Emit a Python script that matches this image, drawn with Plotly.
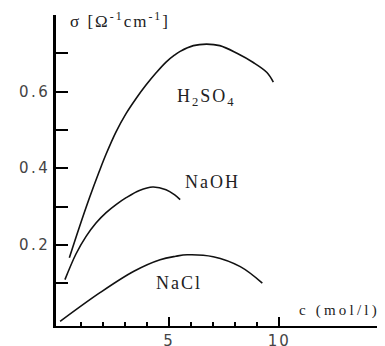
import plotly.graph_objects as go

# Data
h2so4_c = [0.47, 0.92, 1.38, 1.83, 2.14, 2.59, 3.05, 3.5, 3.95, 4.41, 4.86, 5.24, 5.5, 6.1, 6.7, 7.3, 8.08, 8.82, 9.44, 9.73]
h2so4_s = [0.166, 0.245, 0.322, 0.392, 0.437, 0.495, 0.543, 0.582, 0.617, 0.649, 0.677, 0.695, 0.705, 0.72, 0.724, 0.72, 0.70, 0.676, 0.65, 0.625]

naoh_c = [0.27, 0.77, 1.23, 1.68, 2.14, 2.59, 3.05, 3.65, 4.26, 4.86, 5.24, 5.5]
naoh_s = [0.109, 0.176, 0.222, 0.257, 0.284, 0.305, 0.323, 0.342, 0.351, 0.344, 0.331, 0.318]

nacl_c = [0.05, 1.86, 3.4, 4.59, 5.3, 5.82, 7.0, 8.23, 9.23]
nacl_s = [0.0, 0.075, 0.131, 0.161, 0.17, 0.174, 0.169, 0.143, 0.10]

y_ticks = [0.1, 0.2, 0.3, 0.4, 0.5, 0.6, 0.7]
y_labels = ["", "0.2", "", "0.4", "", "0.6", ""]
x_major = [5, 10]
x_labels = ["5", "10"]
x_minor = [1, 2, 3, 4, 6, 7, 8, 9]

def sp(t, s=1.5):
    return f"<span style='letter-spacing:{s}px'>{t}</span>"

line = dict(color="#111", width=1.6, shape="spline", smoothing=1.0)
fig = go.Figure()
for cx, sy in [(h2so4_c, h2so4_s), (naoh_c, naoh_s), (nacl_c, nacl_s)]:
    fig.add_trace(go.Scatter(x=cx, y=sy, mode="lines", line=line, showlegend=False))

serif = dict(family="Liberation Serif", size=18, color="#222")
fig.add_annotation(x=6.7, y=0.585, text=sp("H<sub>2</sub>SO<sub>4</sub>", 2), showarrow=False, font=serif)
fig.add_annotation(x=6.95, y=0.365, text=sp("NaOH", 2), showarrow=False, font=serif)
fig.add_annotation(x=5.45, y=0.10, text=sp("NaCl", 2), showarrow=False, font=serif)
fig.add_annotation(xref="paper", yref="paper", x=0.035, y=0.985, xanchor="left", yanchor="middle",
                   text=sp("σ [Ω<sup>-1</sup>cm<sup>-1</sup>]", 2), showarrow=False,
                   font=dict(family="Liberation Serif", size=17, color="#222"))
fig.add_annotation(xref="paper", x=0.99, y=0.028, xanchor="right", text=sp("c (mol/l)", 3.2),
                   showarrow=False, font=dict(family="Liberation Serif", size=15, color="#222"))

tickfont = dict(family="DejaVu Sans", size=15, color="#444")
fig.update_layout(
    width=377, height=338,
    margin=dict(l=48, r=0, t=7, b=20, autoexpand=False),
    paper_bgcolor="white", plot_bgcolor="white",
    xaxis=dict(range=[-0.136, 14.8], showgrid=False, zeroline=False, showline=True, automargin=False,
               linecolor="black", linewidth=2, ticks="inside", ticklen=9, tickwidth=1.5,
               tickcolor="black", tickvals=x_major, ticktext=[sp(t, 2) for t in x_labels],
               tickfont=tickfont, ticklabelstandoff=0,
               minor=dict(tickvals=x_minor, ticks="inside", ticklen=4, tickwidth=1.5,
                          tickcolor="black", showgrid=False)),
    yaxis=dict(range=[-0.012, 0.80], showgrid=False, zeroline=False, showline=True, automargin=False,
               linecolor="black", linewidth=2.5, ticks="inside", ticklen=12, tickwidth=1.5,
               tickcolor="black", tickvals=y_ticks, ticktext=[sp(t, 2.5) for t in y_labels],
               tickfont=tickfont),
)
fig.write_html("out.html")
